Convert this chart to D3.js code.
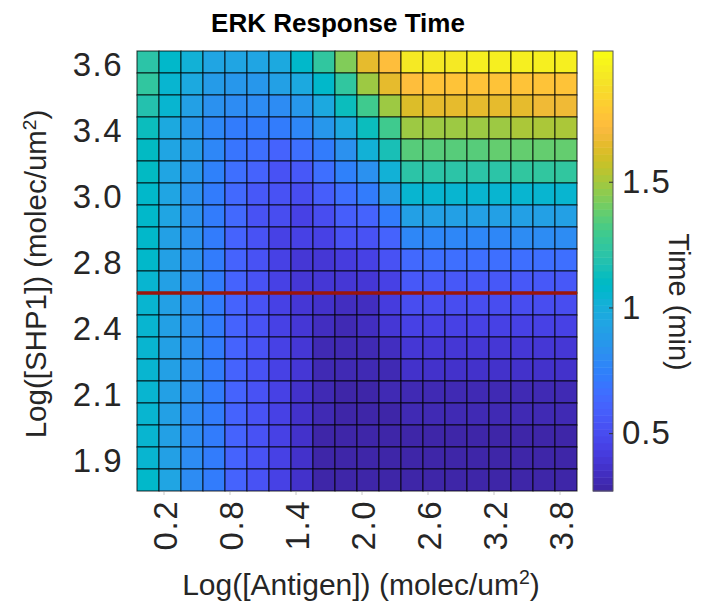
<!DOCTYPE html>
<html>
<head>
<meta charset="utf-8">
<script src="https://cdn.jsdelivr.net/npm/d3@7"></script>
<style>
  body { margin: 0; background: #fff; }
  text { font-family: "Liberation Sans", Arial, Helvetica, sans-serif; }
</style>
</head>
<body>
<div id="chart"></div>
<script>
// log10 antigen density, one per column
const antigenLog = [0.0, 0.2, 0.4, 0.6, 0.8, 1.0, 1.2, 1.4, 1.6, 1.8, 2.0, 2.2, 2.4, 2.6, 2.8, 3.0, 3.2, 3.4, 3.6, 3.8];
const antigenTicks = ["0.2", "0.8", "1.4", "2.0", "2.6", "3.2", "3.8"];

// SHP1 rows, listed top (high SHP1) to bottom; only every third row is labelled
const shp1Rows = d3.range(20);
const shp1TickRows = [0, 3, 6, 9, 12, 15, 18];
const shp1Ticks = ["3.6", "3.4", "3.0", "2.8", "2.4", "2.1", "1.9"];
const cutoffRow = 11; // red line on the upper edge of this row

// ERK response time (min), rows top -> bottom, columns left -> right
const responseTime = [
  [1.22, 1.08, 1.01, 0.94, 0.94, 0.94, 0.97, 1.08, 1.23, 1.44, 1.64, 1.74, 1.92, 1.93, 1.93, 1.94, 1.94, 1.94, 1.95, 1.95],
  [1.23, 1.06, 0.97, 0.88, 0.87, 0.87, 0.90, 0.97, 1.09, 1.25, 1.48, 1.64, 1.74, 1.75, 1.76, 1.76, 1.76, 1.77, 1.77, 1.77],
  [1.18, 1.04, 0.90, 0.83, 0.80, 0.80, 0.80, 0.85, 0.97, 1.13, 1.30, 1.50, 1.63, 1.64, 1.65, 1.65, 1.66, 1.66, 1.67, 1.67],
  [1.13, 0.97, 0.85, 0.78, 0.73, 0.73, 0.73, 0.78, 0.85, 0.97, 1.13, 1.30, 1.48, 1.49, 1.50, 1.50, 1.50, 1.51, 1.51, 1.51],
  [1.11, 0.95, 0.88, 0.78, 0.70, 0.66, 0.61, 0.66, 0.73, 0.83, 1.01, 1.16, 1.35, 1.36, 1.36, 1.36, 1.37, 1.37, 1.37, 1.37],
  [1.11, 0.95, 0.85, 0.74, 0.66, 0.61, 0.53, 0.56, 0.66, 0.76, 0.83, 1.01, 1.21, 1.22, 1.22, 1.22, 1.22, 1.23, 1.23, 1.23],
  [1.09, 0.94, 0.83, 0.73, 0.63, 0.56, 0.52, 0.49, 0.59, 0.66, 0.73, 0.88, 1.04, 1.04, 1.05, 1.05, 1.05, 1.05, 1.06, 1.06],
  [1.09, 0.94, 0.83, 0.73, 0.63, 0.53, 0.49, 0.46, 0.49, 0.59, 0.61, 0.73, 0.90, 0.90, 0.91, 0.91, 0.91, 0.91, 0.92, 0.92],
  [1.07, 0.92, 0.82, 0.73, 0.61, 0.52, 0.44, 0.44, 0.46, 0.52, 0.53, 0.61, 0.77, 0.78, 0.78, 0.78, 0.78, 0.79, 0.79, 0.79],
  [1.07, 0.92, 0.82, 0.71, 0.61, 0.52, 0.44, 0.39, 0.39, 0.41, 0.44, 0.52, 0.65, 0.66, 0.66, 0.66, 0.66, 0.66, 0.67, 0.67],
  [1.06, 0.92, 0.82, 0.72, 0.62, 0.53, 0.44, 0.39, 0.38, 0.38, 0.39, 0.46, 0.56, 0.57, 0.57, 0.57, 0.57, 0.57, 0.57, 0.57],
  [1.06, 0.92, 0.82, 0.72, 0.62, 0.53, 0.44, 0.39, 0.36, 0.35, 0.35, 0.43, 0.50, 0.50, 0.50, 0.50, 0.50, 0.50, 0.50, 0.50],
  [1.06, 0.92, 0.82, 0.72, 0.62, 0.53, 0.44, 0.38, 0.34, 0.32, 0.33, 0.38, 0.44, 0.44, 0.44, 0.44, 0.44, 0.44, 0.44, 0.44],
  [1.06, 0.92, 0.82, 0.72, 0.62, 0.53, 0.44, 0.38, 0.32, 0.31, 0.31, 0.34, 0.40, 0.40, 0.40, 0.40, 0.40, 0.40, 0.40, 0.40],
  [1.06, 0.92, 0.82, 0.72, 0.62, 0.53, 0.44, 0.38, 0.32, 0.30, 0.30, 0.32, 0.36, 0.36, 0.36, 0.36, 0.36, 0.36, 0.36, 0.36],
  [1.06, 0.92, 0.82, 0.72, 0.62, 0.53, 0.44, 0.37, 0.31, 0.29, 0.28, 0.30, 0.32, 0.32, 0.32, 0.32, 0.32, 0.32, 0.32, 0.32],
  [1.06, 0.92, 0.81, 0.71, 0.62, 0.53, 0.44, 0.36, 0.30, 0.28, 0.28, 0.28, 0.30, 0.30, 0.30, 0.30, 0.30, 0.30, 0.30, 0.30],
  [1.06, 0.92, 0.81, 0.71, 0.62, 0.53, 0.44, 0.36, 0.29, 0.27, 0.27, 0.27, 0.28, 0.28, 0.28, 0.28, 0.28, 0.28, 0.28, 0.28],
  [1.06, 0.92, 0.81, 0.71, 0.62, 0.53, 0.44, 0.36, 0.29, 0.27, 0.27, 0.27, 0.27, 0.27, 0.27, 0.27, 0.27, 0.27, 0.27, 0.27],
  [1.07, 0.93, 0.81, 0.71, 0.62, 0.53, 0.44, 0.36, 0.29, 0.27, 0.27, 0.27, 0.27, 0.27, 0.27, 0.27, 0.27, 0.27, 0.27, 0.27]
];

const timeDomain = [0.27, 2.02];
const timeTicks = [0.5, 1, 1.5];

// MATLAB parula, 64 steps
const parula = [
  [0.2422,0.1504,0.6603],[0.2504,0.1650,0.7076],[0.2578,0.1818,0.7511],[0.2647,0.1978,0.7952],
  [0.2706,0.2147,0.8364],[0.2751,0.2342,0.8710],[0.2783,0.2559,0.8991],[0.2803,0.2782,0.9221],
  [0.2813,0.3006,0.9414],[0.2810,0.3228,0.9579],[0.2795,0.3447,0.9717],[0.2760,0.3667,0.9829],
  [0.2699,0.3892,0.9906],[0.2602,0.4123,0.9952],[0.2440,0.4358,0.9988],[0.2206,0.4603,0.9973],
  [0.1963,0.4847,0.9892],[0.1834,0.5074,0.9798],[0.1786,0.5289,0.9682],[0.1764,0.5499,0.9520],
  [0.1687,0.5703,0.9359],[0.1540,0.5902,0.9218],[0.1460,0.6091,0.9079],[0.1380,0.6276,0.8973],
  [0.1248,0.6459,0.8883],[0.1113,0.6635,0.8763],[0.0952,0.6798,0.8598],[0.0689,0.6948,0.8394],
  [0.0297,0.7082,0.8163],[0.0036,0.7203,0.7917],[0.0067,0.7312,0.7660],[0.0433,0.7411,0.7394],
  [0.0964,0.7500,0.7120],[0.1408,0.7584,0.6842],[0.1717,0.7670,0.6554],[0.1938,0.7758,0.6251],
  [0.2161,0.7843,0.5923],[0.2470,0.7918,0.5567],[0.2906,0.7973,0.5188],[0.3406,0.8008,0.4789],
  [0.3909,0.8029,0.4354],[0.4456,0.8024,0.3909],[0.5044,0.7993,0.3480],[0.5616,0.7942,0.3045],
  [0.6174,0.7876,0.2612],[0.6720,0.7793,0.2227],[0.7242,0.7698,0.1910],[0.7738,0.7598,0.1646],
  [0.8203,0.7498,0.1535],[0.8634,0.7406,0.1596],[0.9035,0.7330,0.1774],[0.9393,0.7288,0.2100],
  [0.9728,0.7298,0.2394],[0.9956,0.7434,0.2371],[0.9970,0.7659,0.2199],[0.9952,0.7893,0.2028],
  [0.9892,0.8136,0.1885],[0.9786,0.8386,0.1766],[0.9676,0.8639,0.1643],[0.9610,0.8890,0.1537],
  [0.9597,0.9135,0.1423],[0.9628,0.9373,0.1265],[0.9691,0.9606,0.1064],[0.9769,0.9839,0.0805]
].map(c => d3.rgb(c[0] * 255, c[1] * 255, c[2] * 255).formatHex());

const W = 704, H = 611;
const plot = {left: 137, top: 51, size: 440};
const bar = {left: 593, width: 20};

const svg = d3.select("#chart").append("svg")
  .attr("width", W)
  .attr("height", H);

const x = d3.scaleBand().domain(d3.range(antigenLog.length)).range([plot.left, plot.left + plot.size]);
const y = d3.scaleBand().domain(shp1Rows).range([plot.top, plot.top + plot.size]);
const color = d3.scaleQuantize().domain(timeDomain).range(parula);

// cells
const cells = [];
responseTime.forEach((row, r) => row.forEach((v, c) => cells.push({r, c, v})));

svg.append("g")
  .selectAll("rect")
  .data(cells)
  .join("rect")
  .attr("x", d => x(d.c))
  .attr("y", d => y(d.r))
  .attr("width", x.bandwidth())
  .attr("height", y.bandwidth())
  .attr("fill", d => color(d.v))
  .attr("stroke", "#000")
  .attr("stroke-opacity", 0.75)
  .attr("stroke-width", 1.1);

// red cutoff line
svg.append("line")
  .attr("x1", x.range()[0])
  .attr("x2", x.range()[1])
  .attr("y1", y(cutoffRow))
  .attr("y2", y(cutoffRow))
  .attr("stroke", "#9b150b")
  .attr("stroke-width", 3.7);

const tickFont = "33px";

// x axis (tick marks are faint and sit a little left of the cell centres)
const xTickIdx = antigenTicks.map(t => antigenLog.findIndex(a => Math.abs(a - +t) < 1e-9));
const xAxis = svg.append("g")
  .attr("transform", `translate(-6,${plot.top + plot.size + 1})`)
  .call(d3.axisBottom(x).tickValues(xTickIdx).tickSize(3).tickFormat((d, i) => antigenTicks[i]));
xAxis.select(".domain").remove();
xAxis.selectAll("line").attr("stroke", "#c8c8c8");
xAxis.selectAll("text")
  .attr("transform", "rotate(-90)")
  .attr("x", -8)
  .attr("y", 1)
  .attr("dy", "0.36em")
  .style("text-anchor", "end")
  .style("font-size", tickFont)
  .style("letter-spacing", "1.5px")
  .attr("fill", "#262626");

// y axis
const yAxis = svg.append("g")
  .attr("transform", `translate(${plot.left},3)`)
  .call(d3.axisLeft(y).tickValues(shp1TickRows).tickSize(0).tickPadding(14).tickFormat((d, i) => shp1Ticks[i]));
yAxis.select(".domain").remove();
yAxis.selectAll("text")
  .style("font-size", tickFont)
  .style("letter-spacing", "1.5px")
  .attr("fill", "#262626");

// colorbar
const cy = d3.scaleLinear().domain(timeDomain).range([plot.top + plot.size, plot.top]);
const bandH = plot.size / parula.length;
svg.append("g")
  .selectAll("rect")
  .data(parula)
  .join("rect")
  .attr("x", bar.left)
  .attr("y", d => cy(color.invertExtent(d)[1]))
  .attr("width", bar.width)
  .attr("height", bandH + 0.5)
  .attr("fill", d => d);
svg.append("rect")
  .attr("x", bar.left)
  .attr("y", plot.top)
  .attr("width", bar.width)
  .attr("height", plot.size)
  .attr("fill", "none")
  .attr("stroke", "#555")
  .attr("stroke-width", 1);

const cAxis = svg.append("g")
  .attr("transform", `translate(${bar.left + bar.width},0)`)
  .call(d3.axisRight(cy).tickValues(timeTicks).tickSizeInner(-4).tickSizeOuter(0).tickPadding(9).tickFormat(d3.format("~g")));
cAxis.select(".domain").remove();
cAxis.selectAll("line").attr("stroke", "#333");
cAxis.selectAll("text")
  .style("font-size", tickFont)
  .style("letter-spacing", "1px")
  .attr("fill", "#262626");

// title and labels
svg.append("text")
  .attr("x", 338)
  .attr("y", 32)
  .attr("text-anchor", "middle")
  .style("font-size", "26px")
  .style("font-weight", "bold")
  .attr("fill", "#000")
  .text("ERK Response Time");

function unitLabel(sel, main) {
  sel.append("tspan").text(main + " (molec/um");
  sel.append("tspan").attr("baseline-shift", "super").style("font-size", "65%").text("2");
  sel.append("tspan").text(")");
}

svg.append("text")
  .attr("x", 361)
  .attr("y", 595)
  .attr("text-anchor", "middle")
  .style("font-size", "30px")
  .attr("fill", "#262626")
  .call(unitLabel, "Log([Antigen])");

svg.append("text")
  .attr("transform", `translate(46,274) rotate(-90)`)
  .attr("text-anchor", "middle")
  .style("font-size", "29.5px")
  .attr("fill", "#262626")
  .call(unitLabel, "Log([SHP1])");

svg.append("text")
  .attr("transform", `translate(669,302) rotate(90)`)
  .attr("text-anchor", "middle")
  .style("font-size", "29px")
  .attr("fill", "#262626")
  .text("Time (min)");
</script>
</body>
</html>
